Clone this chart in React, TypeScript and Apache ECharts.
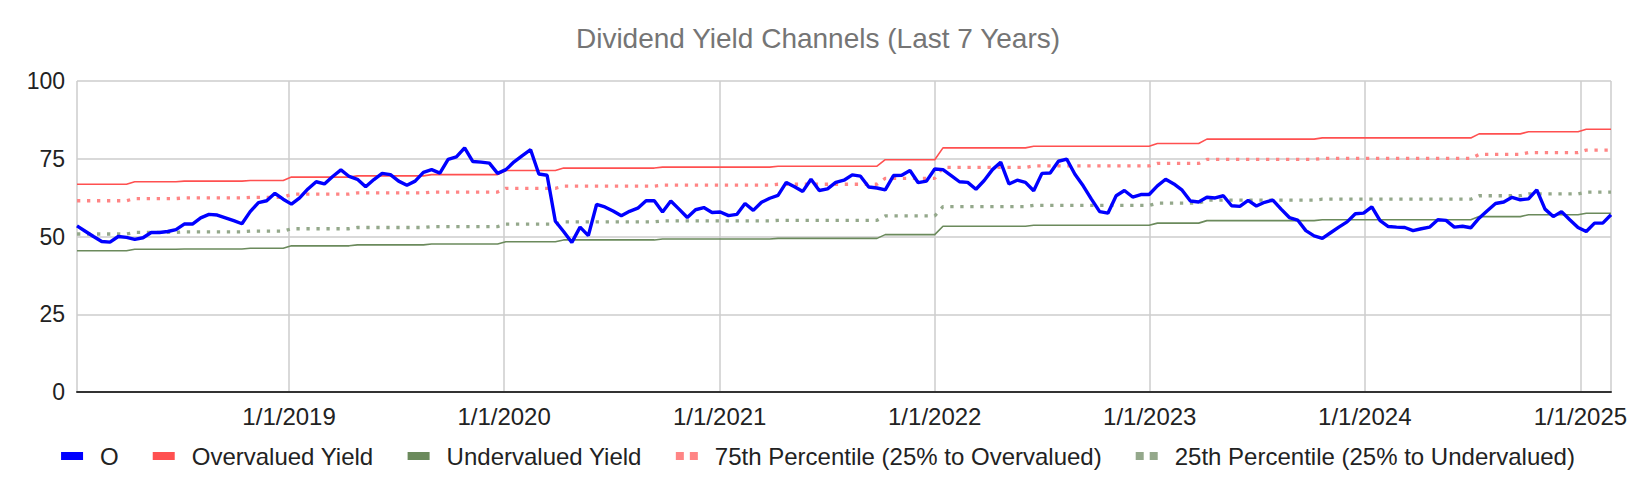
import React, { useEffect, useRef } from "react";
import * as echarts from "echarts";

const TITLE = "Dividend Yield Channels (Last 7 Years)";
const START = [2018, 0, 6];
const STEP_DAYS = 14;

const SERIES_NAMES = [
  "O",
  "Overvalued Yield",
  "Undervalued Yield",
  "75th Percentile (25% to Overvalued)",
  "25th Percentile (25% to Undervalued)",
];

const oPrices = [
  53.4, 51.7, 50.0, 48.4, 48.2, 50.0, 49.7, 49.1, 49.6, 51.3,
  51.3, 51.6, 52.2, 54.0, 54.0, 56.0, 57.1, 56.9, 56.0, 55.1,
  54.1, 58.0, 60.9, 61.5, 63.9, 62.0, 60.4, 62.4, 65.3, 67.6,
  66.9, 69.3, 71.4, 69.3, 68.4, 66.0, 68.3, 70.3, 69.9, 67.8,
  66.5, 67.8, 70.6, 71.5, 70.4, 74.8, 75.6, 78.5, 74.1, 73.9,
  73.6, 70.3, 71.5, 74.0, 76.0, 77.9, 70.1, 69.7, 54.9, 51.6,
  48.1, 53.0, 50.3, 60.3, 59.5, 58.2, 56.7, 58.1, 59.1, 61.5,
  61.5, 57.9, 61.4, 58.8, 56.1, 58.6, 59.3, 57.7, 57.9, 56.7,
  57.1, 60.6, 58.4, 61.0, 62.3, 63.2, 67.4, 66.0, 64.5, 68.4,
  64.8, 65.3, 67.4, 68.1, 69.8, 69.4, 65.9, 65.6, 65.0, 69.6,
  69.7, 71.2, 67.3, 67.8, 71.7, 71.5, 69.6, 67.6, 67.4, 65.2,
  68.0, 71.5, 73.9, 66.9, 68.1, 67.4, 64.7, 70.3, 70.4, 74.2,
  74.9, 70.0, 66.3, 62.0, 58.0, 57.5, 63.1, 64.8, 62.7, 63.5,
  63.5, 66.3, 68.4, 66.9, 64.9, 61.4, 61.1, 62.6, 62.4, 63.1,
  59.9, 59.7, 61.6, 59.8, 61.0, 61.7, 58.8, 56.1, 55.3, 51.9,
  50.2, 49.4, 51.2, 53.0, 54.7, 57.3, 57.5, 59.5, 55.1, 53.2,
  53.0, 52.9, 51.9, 52.5, 53.0, 55.4, 55.2, 53.0, 53.3, 52.8,
  55.9, 58.3, 60.6, 61.1, 62.6, 61.8, 62.1, 65.0, 58.8, 56.4,
  58.0, 55.4, 52.9, 51.6, 54.3, 54.3, 57.0,
];

// [first point index, value held from that point on]
const overvaluedSteps = [
  [0, 66.8], [7, 67.6], [13, 67.8], [21, 68.0], [26, 69.1], [34, 69.5],
  [43, 69.9], [52, 71.2], [59, 72.0], [71, 72.3], [85, 72.6], [98, 74.7],
  [105, 78.5], [116, 79.0], [131, 79.9], [137, 81.3], [151, 81.7],
  [170, 83.0], [176, 83.7], [183, 84.5],
];
const undervaluedSteps = [
  [0, 45.4], [7, 45.9], [13, 46.0], [21, 46.2], [26, 47.0], [34, 47.3],
  [43, 47.6], [52, 48.3], [59, 48.9], [71, 49.2], [85, 49.4], [98, 50.6],
  [105, 53.3], [116, 53.6], [131, 54.3], [137, 55.1], [151, 55.4],
  [170, 56.4], [176, 57.0], [183, 57.5],
];
const p75Steps = [
  [0, 61.5], [7, 62.2], [13, 62.4], [21, 62.6], [26, 63.6], [34, 64.0],
  [43, 64.3], [52, 65.5], [59, 66.2], [71, 66.5], [85, 66.8], [98, 68.7],
  [105, 72.2], [116, 72.7], [131, 73.5], [137, 74.8], [151, 75.1],
  [170, 76.4], [176, 77.0], [183, 77.8],
];
const p25Steps = [
  [0, 50.8], [7, 51.3], [13, 51.5], [21, 51.7], [26, 52.5], [34, 52.9],
  [43, 53.2], [52, 54.0], [59, 54.7], [71, 55.0], [85, 55.2], [98, 56.6],
  [105, 59.6], [116, 60.0], [131, 60.7], [137, 61.7], [151, 62.0],
  [170, 63.1], [176, 63.7], [183, 64.3],
];

const Y_TICKS = [0, 25, 50, 75, 100];

function holdSteps(steps: number[][], n: number): number[] {
  const out: number[] = [];
  let k = 0;
  for (let i = 0; i < n; i++) {
    while (k + 1 < steps.length && steps[k + 1][0] <= i) k++;
    out.push(steps[k][1]);
  }
  return out;
}

function buildDates(n: number): number[] {
  const out: number[] = [];
  for (let i = 0; i < n; i++) {
    out.push(new Date(START[0], START[1], START[2] + i * STEP_DAYS).getTime());
  }
  return out;
}

const FONT = '"Liberation Sans", Arial, sans-serif';

export default function App() {
  const ref = useRef<HTMLDivElement>(null);

  useEffect(() => {
    document.body.style.margin = "0";
    if (!ref.current) return;
    const chart = echarts.init(ref.current, undefined, { renderer: "svg" });
    const n = oPrices.length;
    const dates = buildDates(n);
    const pair = (arr: number[]) => dates.map((d, i) => [d, arr[i]]);

    const over = holdSteps(overvaluedSteps, n);
    const under = holdSteps(undervaluedSteps, n);
    const p75 = holdSteps(p75Steps, n);
    const p25 = holdSteps(p25Steps, n);

    const dotIcon = "path://M0,0H8V8H0Z M14,0H22V8H14Z";
    const colors = ["#0000ff", "#ff5050", "#6b8a5c", "#ff8585", "#94a88b"];

    chart.setOption({
      animation: false,
      color: colors,
      textStyle: { fontFamily: FONT },
      title: {
        text: TITLE,
        left: "center",
        top: 24,
        padding: 0,
        textStyle: { fontFamily: FONT, fontSize: 28, fontWeight: "normal", color: "#757575" },
      },
      legend: {
        top: 444,
        left: "center",
        padding: 0,
        itemWidth: 22,
        itemHeight: 8,
        itemGap: 34,
        itemStyle: { borderWidth: 0 },
        textStyle: { fontFamily: FONT, fontSize: 24, color: "#222222", padding: [0, 0, 0, 12], lineHeight: 24 },
        data: [
          { name: SERIES_NAMES[0], icon: "rect" },
          { name: SERIES_NAMES[1], icon: "rect" },
          { name: SERIES_NAMES[2], icon: "rect" },
          { name: SERIES_NAMES[3], icon: dotIcon },
          { name: SERIES_NAMES[4], icon: dotIcon },
        ],
      },
      grid: { left: 77, right: 25, top: 81, bottom: 102, containLabel: false },
      xAxis: {
        type: "time",
        min: dates[0],
        max: dates[n - 1],
        splitNumber: 7,
        minInterval: 365 * 86400000,
        axisLine: { show: true, lineStyle: { color: "#333333", width: 2 } },
        axisTick: { show: false },
        axisLabel: {
          fontFamily: FONT,
          fontSize: 24,
          color: "#222222",
          margin: 12,
          hideOverlap: false,
          formatter: (v: number) => {
            const d = new Date(v);
            return `${d.getMonth() + 1}/${d.getDate()}/${d.getFullYear()}`;
          },
        },
        splitLine: { show: true, lineStyle: { color: "#cccccc", width: 1.5 } },
      },
      yAxis: {
        type: "value",
        min: Y_TICKS[0],
        max: Y_TICKS[Y_TICKS.length - 1],
        interval: 25,
        axisLine: { show: false },
        axisTick: { show: false },
        axisLabel: { fontFamily: FONT, fontSize: 23, color: "#222222", margin: 12 },
        splitLine: { show: true, lineStyle: { color: "#cccccc", width: 1.5 } },
      },
      series: [
        {
          name: SERIES_NAMES[0],
          type: "line",
          data: pair(oPrices),
          symbol: "none",
          z: 10,
          lineStyle: { color: colors[0], width: 3.4 },
          itemStyle: { color: colors[0] },
        },
        {
          name: SERIES_NAMES[1],
          type: "line",
          data: pair(over),
          symbol: "none",
          z: 5,
          lineStyle: { color: colors[1], width: 1.6 },
          itemStyle: { color: colors[1] },
        },
        {
          name: SERIES_NAMES[2],
          type: "line",
          data: pair(under),
          symbol: "none",
          z: 5,
          lineStyle: { color: colors[2], width: 1.6 },
          itemStyle: { color: colors[2] },
        },
        {
          name: SERIES_NAMES[3],
          type: "line",
          data: pair(p75),
          symbol: "none",
          z: 4,
          lineStyle: { color: colors[3], width: 3.3, type: [3.3, 6.7], cap: "butt" },
          itemStyle: { color: colors[3] },
        },
        {
          name: SERIES_NAMES[4],
          type: "line",
          data: pair(p25),
          symbol: "none",
          z: 4,
          lineStyle: { color: colors[4], width: 3.3, type: [3.3, 6.7], cap: "butt" },
          itemStyle: { color: colors[4] },
        },
      ],
    });
    return () => chart.dispose();
  }, []);

  return <div ref={ref} style={{ width: 1636, height: 494 }} />;
}
